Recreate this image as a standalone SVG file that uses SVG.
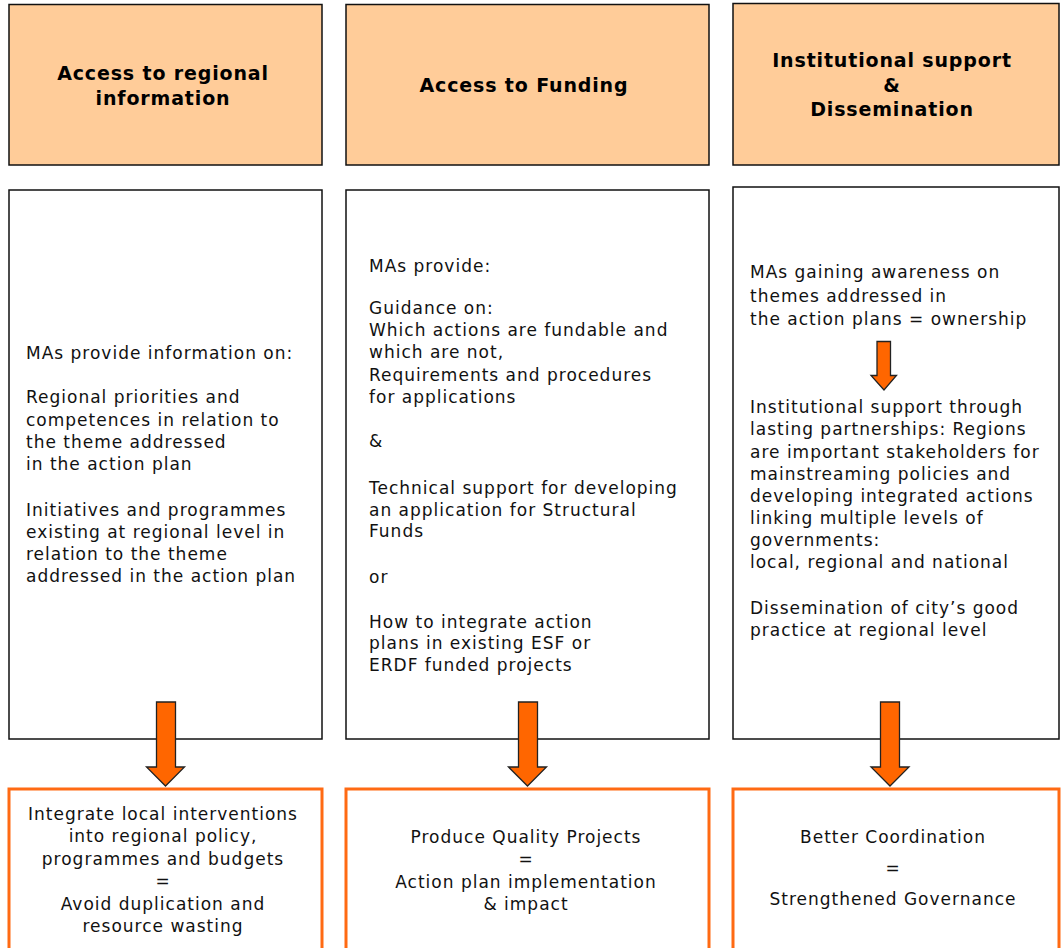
<svg xmlns="http://www.w3.org/2000/svg" width="1062" height="948" viewBox="0 0 1062 948">
  <style>
    .head { fill: #ffcc99; stroke: #111; stroke-width: 1.5; }
    .body { fill: #fff; stroke: #111; stroke-width: 1.5; }
    .out { fill: #fff; stroke: #ff6a13; stroke-width: 3; }
    .arrow { fill: #ff6600; stroke: #222; stroke-width: 1.3; stroke-linejoin: miter; }
    .ht { font-family: "DejaVu Sans", Verdana, sans-serif; font-weight: bold; font-size: 19px; letter-spacing: 0.85px; fill: #000; text-anchor: middle; }
    .t { font-family: "DejaVu Sans", Verdana, sans-serif; font-size: 17px; letter-spacing: 1px; fill: #111; }
    .c { text-anchor: middle; }
  </style>

  <!-- column 1: regional information -->
  <g id="col1-header">
    <rect class="head" x="9" y="4.5" width="313" height="160.5"/>
    <text class="ht" x="163" y="80">Access to regional</text>
    <text class="ht" x="163" y="105">information</text>
  </g>
  <g id="col1-body">
    <rect class="body" x="9" y="190" width="313" height="549"/>
    <text class="t" x="26" y="359">MAs provide information on:</text>
    <text class="t" x="26" y="403">Regional priorities and</text>
    <text class="t" x="26" y="426">competences in relation to</text>
    <text class="t" x="26" y="448">the theme addressed</text>
    <text class="t" x="26" y="470">in the action plan</text>
    <text class="t" x="26" y="516">Initiatives and programmes</text>
    <text class="t" x="26" y="538">existing at regional level in</text>
    <text class="t" x="26" y="560">relation to the theme</text>
    <text class="t" x="26" y="582">addressed in the action plan</text>
  </g>
  <g id="col1-result">
    <rect class="out" x="9" y="789" width="313" height="170"/>
    <text class="t c" x="163" y="820">Integrate local interventions</text>
    <text class="t c" x="163" y="842">into regional policy,</text>
    <text class="t c" x="163" y="865">programmes and budgets</text>
    <text class="t c" x="163" y="887">=</text>
    <text class="t c" x="163" y="910">Avoid duplication and</text>
    <text class="t c" x="163" y="932">resource wasting</text>
  </g>

  <!-- column 2: funding -->
  <g id="col2-header">
    <rect class="head" x="346" y="4.5" width="363" height="160.5"/>
    <text class="ht" x="524" y="92">Access to Funding</text>
  </g>
  <g id="col2-body">
    <rect class="body" x="346" y="190" width="363" height="549"/>
    <text class="t" x="369" y="272">MAs provide:</text>
    <text class="t" x="369" y="314">Guidance on:</text>
    <text class="t" x="369" y="336">Which actions are fundable and</text>
    <text class="t" x="369" y="358">which are not,</text>
    <text class="t" x="369" y="381">Requirements and procedures</text>
    <text class="t" x="369" y="403">for applications</text>
    <text class="t" x="369" y="447">&amp;</text>
    <text class="t" x="369" y="494">Technical support for developing</text>
    <text class="t" x="369" y="516">an application for Structural</text>
    <text class="t" x="369" y="537">Funds</text>
    <text class="t" x="369" y="583">or</text>
    <text class="t" x="369" y="628">How to integrate action</text>
    <text class="t" x="369" y="649">plans in existing ESF or</text>
    <text class="t" x="369" y="671">ERDF funded projects</text>
  </g>
  <g id="col2-result">
    <rect class="out" x="346" y="789" width="363" height="170"/>
    <text class="t c" x="526" y="843">Produce Quality Projects</text>
    <text class="t c" x="526" y="865">=</text>
    <text class="t c" x="526" y="888">Action plan implementation</text>
    <text class="t c" x="526" y="910">&amp; impact</text>
  </g>

  <!-- column 3: institutional support -->
  <g id="col3-header">
    <rect class="head" x="733" y="3.5" width="326" height="161.5"/>
    <text class="ht" x="892" y="67">Institutional support</text>
    <text class="ht" x="892" y="92">&amp;</text>
    <text class="ht" x="892" y="116">Dissemination</text>
  </g>
  <g id="col3-body">
    <rect class="body" x="733" y="187" width="326" height="552"/>
    <text class="t" x="750" y="278">MAs gaining awareness on</text>
    <text class="t" x="750" y="302">themes addressed in</text>
    <text class="t" x="750" y="325">the action plans = ownership</text>
    <text class="t" x="750" y="413">Institutional support through</text>
    <text class="t" x="750" y="435">lasting partnerships: Regions</text>
    <text class="t" x="750" y="458">are important stakeholders for</text>
    <text class="t" x="750" y="480">mainstreaming policies and</text>
    <text class="t" x="750" y="502">developing integrated actions</text>
    <text class="t" x="750" y="524">linking multiple levels of</text>
    <text class="t" x="750" y="546">governments:</text>
    <text class="t" x="750" y="568">local, regional and national</text>
    <text class="t" x="750" y="614">Dissemination of city’s good</text>
    <text class="t" x="750" y="636">practice at regional level</text>
  </g>
  <g id="col3-result">
    <rect class="out" x="733" y="789" width="326" height="170"/>
    <text class="t c" x="893" y="843">Better Coordination</text>
    <text class="t c" x="893" y="874">=</text>
    <text class="t c" x="893" y="905">Strengthened Governance</text>
  </g>

  <!-- connectors: block arrows -->
  <g id="connectors">
    <path class="arrow" d="M877,341.5 H890.5 V375.5 H896.5 L884,390 L871,375.5 H877 Z"/>
    <path class="arrow" d="M156.5,702 H175.5 V767 H184.5 L165.5,786 L146.5,767 H156.5 Z"/>
    <path class="arrow" d="M518.5,702 H537.5 V767 H546.5 L527.5,786 L508.5,767 H518.5 Z"/>
    <path class="arrow" d="M880.5,702 H899.5 V767 H909 L890,786 L871,767 H880.5 Z"/>
  </g>
</svg>
